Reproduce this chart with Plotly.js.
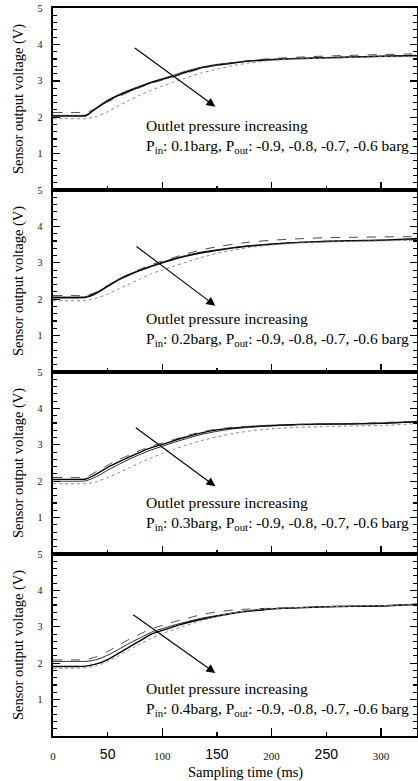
<!DOCTYPE html>
<html>
<head>
<meta charset="utf-8">
<script src="https://cdn.plot.ly/plotly-3.0.1.min.js"></script>
<style>html,body{margin:0;padding:0;background:#fff;}#chart{width:418px;height:781px;}</style>
</head>
<body>
<div id="chart"></div>
<script>
// Sampling time (ms)
const time = [0, 10, 20, 30, 40, 50, 60, 70, 80, 90, 100, 110, 120, 135, 150, 165, 180, 200, 225, 250, 275, 300, 333];

// Inlet pressures (one panel each) and outlet pressures (one curve each)
const inletPressures = ["0.1", "0.2", "0.3", "0.4"];
const outletPressures = ["-0.9", "-0.8", "-0.7", "-0.6"];

// Panel 1: Pin 0.1 barg
const p1_a = [2.03, 2.03, 2.03, 2.04, 2.25, 2.45, 2.60, 2.72, 2.84, 2.95, 3.04, 3.12, 3.22, 3.35, 3.43, 3.49, 3.54, 3.58, 3.61, 3.63, 3.65, 3.67, 3.69];
const p1_b = [2.05, 2.05, 2.05, 2.06, 2.27, 2.47, 2.62, 2.75, 2.86, 2.97, 3.06, 3.15, 3.25, 3.37, 3.45, 3.50, 3.55, 3.59, 3.62, 3.64, 3.66, 3.68, 3.70];
const p1_c = [2.13, 2.13, 2.13, 2.13, 2.25, 2.42, 2.56, 2.70, 2.82, 2.93, 3.02, 3.11, 3.20, 3.33, 3.43, 3.50, 3.56, 3.61, 3.65, 3.68, 3.70, 3.72, 3.74];
const p1_d = [1.96, 1.96, 1.96, 1.96, 2.02, 2.15, 2.31, 2.47, 2.61, 2.74, 2.86, 2.96, 3.06, 3.21, 3.32, 3.42, 3.49, 3.56, 3.60, 3.62, 3.64, 3.66, 3.66];

// Panel 2: Pin 0.2 barg
const p2_a = [2.04, 2.04, 2.04, 2.05, 2.17, 2.35, 2.53, 2.67, 2.79, 2.90, 3.00, 3.09, 3.17, 3.27, 3.34, 3.41, 3.46, 3.51, 3.56, 3.59, 3.61, 3.62, 3.67];
const p2_b = [2.06, 2.06, 2.06, 2.07, 2.19, 2.37, 2.55, 2.69, 2.81, 2.92, 3.02, 3.11, 3.19, 3.29, 3.36, 3.42, 3.47, 3.52, 3.56, 3.58, 3.60, 3.62, 3.64];
const p2_c = [2.10, 2.10, 2.10, 2.10, 2.20, 2.38, 2.55, 2.70, 2.83, 2.95, 3.05, 3.14, 3.23, 3.35, 3.44, 3.51, 3.57, 3.62, 3.66, 3.69, 3.70, 3.71, 3.72];
const p2_d = [1.96, 1.96, 1.96, 1.96, 2.03, 2.14, 2.28, 2.42, 2.56, 2.70, 2.80, 2.90, 3.00, 3.14, 3.26, 3.35, 3.42, 3.49, 3.54, 3.57, 3.59, 3.60, 3.62];

// Panel 3: Pin 0.3 barg
const p3_a = [2.05, 2.05, 2.05, 2.06, 2.20, 2.38, 2.53, 2.67, 2.80, 2.92, 3.01, 3.11, 3.20, 3.32, 3.41, 3.46, 3.50, 3.53, 3.56, 3.57, 3.58, 3.59, 3.64];
const p3_b = [2.00, 2.00, 2.00, 2.01, 2.13, 2.30, 2.46, 2.61, 2.74, 2.86, 2.96, 3.06, 3.15, 3.28, 3.37, 3.44, 3.48, 3.52, 3.55, 3.56, 3.57, 3.59, 3.63];
const p3_c = [2.10, 2.10, 2.10, 2.11, 2.27, 2.44, 2.59, 2.72, 2.85, 2.96, 3.05, 3.14, 3.23, 3.35, 3.43, 3.48, 3.51, 3.54, 3.56, 3.58, 3.59, 3.61, 3.65];
const p3_d = [1.93, 1.93, 1.93, 1.93, 1.99, 2.10, 2.23, 2.37, 2.51, 2.64, 2.76, 2.87, 2.97, 3.11, 3.22, 3.31, 3.38, 3.44, 3.48, 3.50, 3.52, 3.53, 3.58];

// Panel 4: Pin 0.4 barg
const p4_a = [1.91, 1.91, 1.91, 1.92, 1.98, 2.10, 2.27, 2.45, 2.62, 2.80, 2.90, 3.00, 3.09, 3.20, 3.29, 3.37, 3.43, 3.49, 3.52, 3.55, 3.56, 3.57, 3.62];
const p4_b = [2.05, 2.05, 2.05, 2.05, 2.10, 2.22, 2.38, 2.55, 2.70, 2.85, 2.95, 3.04, 3.12, 3.23, 3.31, 3.39, 3.45, 3.50, 3.53, 3.55, 3.57, 3.58, 3.62];
const p4_c = [2.09, 2.09, 2.09, 2.10, 2.18, 2.32, 2.50, 2.66, 2.81, 2.94, 3.04, 3.13, 3.21, 3.33, 3.41, 3.46, 3.49, 3.51, 3.53, 3.56, 3.57, 3.58, 3.62];
const p4_d = [1.86, 1.86, 1.86, 1.88, 1.93, 2.05, 2.20, 2.37, 2.53, 2.68, 2.81, 2.92, 3.02, 3.16, 3.28, 3.38, 3.45, 3.50, 3.53, 3.55, 3.57, 3.58, 3.61];

const panels = [
  [p1_a, p1_b, p1_c, p1_d],
  [p2_a, p2_b, p2_c, p2_d],
  [p3_a, p3_b, p3_c, p3_d],
  [p4_a, p4_b, p4_c, p4_d]
];

// Axis tick labels
const xMajorTicks = [0, 100, 200, 300];
const xMajorLabels = ["0", "100", "200", "300"];
const xMinorTicks = [50, 150, 250];
const xMinorLabels = ["50", "150", "250"];
const yTicks = [1, 2, 3, 4, 5];
const yLabels = ["1", "2", "3", "4", "5"];

// Annotation text & positions (data units) per panel
const arrowTail = [[73.5, 3.93], [75, 3.48], [74.4, 3.50], [72, 3.36]];
const arrowHead = [[148.5, 2.29], [148.5, 1.82], [148.5, 1.86], [148.5, 1.73]];
const noteX = 83;
const noteY = [1.47, 1.17, 1.12, 0.99];

const lineStyles = [
  {color: '#000', width: 1.4, dash: 'solid'},
  {color: '#111', width: 0.9, dash: 'solid'},
  {color: '#333', width: 0.9, dash: 'dash'},
  {color: '#888', width: 1.0, dash: 'dot'}
];

const serif = '"Liberation Serif", "Times New Roman", serif';
const sans = '"Liberation Sans", Arial, sans-serif';

const traces = [];
const layout = {
  width: 418, height: 781,
  margin: {l: 53, r: 1, t: 8, b: 45},
  paper_bgcolor: '#fff', plot_bgcolor: '#fff',
  showlegend: false,
  annotations: []
};

const XRANGE = [0, 333];

for (let p = 0; p < 4; p++) {
  const n = p + 1;
  const xa = n === 1 ? 'x' : 'x' + n;
  const ya = n === 1 ? 'y' : 'y' + n;
  const xKey = n === 1 ? 'xaxis' : 'xaxis' + n;
  const yKey = n === 1 ? 'yaxis' : 'yaxis' + n;

  panels[p].forEach((vals, i) => {
    traces.push({
      x: time, y: vals, xaxis: xa, yaxis: ya,
      type: 'scatter', mode: 'lines',
      line: Object.assign({shape: 'spline', smoothing: 0.6}, lineStyles[i]),
      name: 'Pout ' + outletPressures[i] + ' barg',
      hoverinfo: 'skip'
    });
  });

  layout[xKey] = {
    anchor: ya, range: XRANGE, fixedrange: true,
    showline: true, linecolor: '#000', linewidth: 1.6, mirror: true,
    showgrid: false, zeroline: false,
    ticks: 'inside', ticklen: 8, tickwidth: 1.6, tickcolor: '#000',
    tickmode: 'array', tickvals: xMajorTicks, ticktext: xMajorLabels,
    minor: {tickmode: 'array', tickvals: xMinorTicks, ticks: 'inside', ticklen: 4, tickwidth: 1.4, tickcolor: '#000', showgrid: false},
    showticklabels: n === 4,
    tickfont: {family: serif, size: 11, color: '#111'},
    ticklabelstandoff: 9
  };
  layout[yKey] = {
    domain: [1 - n * 0.25, 1 - (n - 1) * 0.25],
    anchor: xa, range: [0, 5], fixedrange: true,
    showline: true, linecolor: '#000', linewidth: 1.6, mirror: 'ticks',
    showgrid: false, zeroline: false,
    ticks: 'inside', ticklen: 7, tickwidth: 1.4, tickcolor: '#000',
    tickmode: 'array', tickvals: yTicks, ticktext: yLabels,
    minor: {dtick: 0.2, tick0: 0, ticks: 'inside', ticklen: 4, tickwidth: 1.1, tickcolor: '#000', showgrid: false},
    tickfont: {family: serif, size: 10, color: '#111'},
    ticklabelstandoff: 7
  };

  // arrow
  layout.annotations.push({
    xref: xa, yref: ya, axref: xa, ayref: ya,
    x: arrowHead[p][0], y: arrowHead[p][1],
    ax: arrowTail[p][0], ay: arrowTail[p][1],
    text: '', showarrow: true, arrowhead: 2, arrowsize: 1.6, arrowwidth: 1.1, arrowcolor: '#000'
  });
  // note
  layout.annotations.push({
    xref: xa, yref: ya, x: noteX, y: noteY[p],
    xanchor: 'left', yanchor: 'middle', align: 'left', showarrow: false,
    text: 'Outlet pressure increasing<br>P<sub>in</sub>: ' + inletPressures[p] + 'barg, P<sub>out</sub>: ' + outletPressures.join(', ') + ' barg',
    font: {family: serif, size: 15.5, color: '#000'}
  });
  // y title
  layout.annotations.push({
    xref: 'paper', yref: 'paper',
    x: -0.096, y: 1 - (n - 0.5) * 0.25,
    xanchor: 'center', yanchor: 'middle', showarrow: false, textangle: -90,
    text: 'Sensor output voltage (V)',
    font: {family: serif, size: 14.5, color: '#000'}
  });
}

// overlay axis for the 50/150/250 labels (different font in the original)
layout.xaxis5 = {
  overlaying: 'x4', anchor: 'y4', side: 'bottom', range: XRANGE, fixedrange: true,
  showline: false, showgrid: false, zeroline: false, ticks: '',
  tickmode: 'array', tickvals: xMinorTicks, ticktext: xMinorLabels,
  tickfont: {family: sans, size: 14, color: '#000'},
  ticklabelstandoff: 8
};
traces.push({x: [], y: [], xaxis: 'x5', yaxis: 'y4', type: 'scatter', mode: 'lines', showlegend: false, hoverinfo: 'skip'});

// x title
layout.annotations.push({
  xref: 'paper', yref: 'paper', x: 0.53, y: -0.05,
  xanchor: 'center', yanchor: 'middle', showarrow: false,
  text: 'Sampling time (ms)',
  font: {family: serif, size: 14.5, color: '#000'}
});

Plotly.newPlot('chart', traces, layout, {displayModeBar: false, staticPlot: true});
</script>
</body>
</html>
